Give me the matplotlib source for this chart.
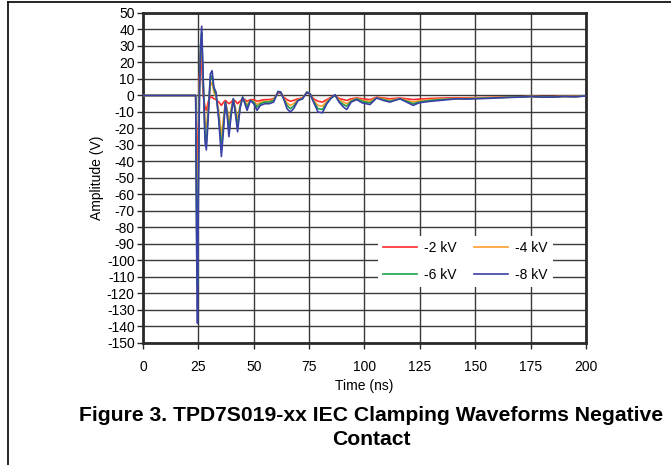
import numpy as np
from matplotlib import pyplot as plt
from matplotlib.lines import Line2D

# ESD clamping waveforms

time_ns = [0, 10, 20, 23.8, 24.2, 24.6, 25.0, 25.5, 26.0, 26.5, 27.2, 28.0, 28.6, 29.4,
           30.4, 31.2, 32.0, 33.0, 34.2, 35.4, 36.4, 37.2, 38.0, 38.8, 39.8, 40.8,
           41.8, 42.7, 43.8, 45.0, 46.0, 47.0, 48.5, 50.0, 51.5, 53.0, 55.0, 57.0,
           59.0, 61.0, 62.2, 63.5, 65.0, 66.5, 68.0, 70.0, 72.0, 74.0, 75.4, 77.0,
           79.0, 81.0, 83.0, 85.0, 86.7, 88.5, 90.5, 92.0, 94.0, 96.5, 99.0, 102.5,
           105.5, 108.5, 111.5, 116.0, 119.0, 122.0, 124.5, 127.0, 130.0, 134.0,
           138.0, 142.0, 146.0, 150.0, 155.0, 160.0, 165.0, 170.0, 175.0, 180.0,
           185.0, 190.0, 195.0, 200.0]

v_2kv = [0, 0, 0, 0, -30, -50, -20, 10, 26, 18, 0, -7, -9, -4,
         -1, -1, -2, -2.5, -4, -6, -4, -3, -4, -5, -4, -2.5,
         -3.5, -5, -3.5, -2, -2.5, -3.5, -2.5, -2.5, -3.5, -3, -2.5, -2.5,
         -2, 1.5, 1.5, -1, -2.5, -3.5, -3, -2, -1.5, 1.5, 1, -2,
         -3.5, -4, -2.5, -1, 0, -1.8, -2.5, -3, -2, -1.5, -2, -2.5,
         -1, -1.5, -2, -1.5, -2, -2.5, -2.2, -2, -1.8, -1.6,
         -1.5, -1.4, -1.4, -1.3, -1.2, -1, -0.9, -0.8, -0.6, -0.7,
         -0.7, -0.5, -0.6, -0.3]

v_4kv = [0, 0, 0, 0, -60, -85, -35, 8, 28, 33, 5, -16, -20, -8,
         6, 8, 2, -1, -9, -25, -13, -4, -8, -17, -8, -2.5,
         -8, -15, -6, -1.5, -3.5, -5.5, -3, -3.5, -5.5, -4, -3.5, -3.5,
         -2.5, 2, 2, -1.5, -4.5, -6, -5, -2.5, -1.5, 2, 1, -3,
         -6, -6.5, -3.5, -1.2, 0, -2.5, -4, -5, -3, -1.8, -3, -3.5,
         -1.3, -2, -3, -1.8, -3, -4, -3.2, -3, -2.5, -2.2,
         -2, -1.8, -1.8, -1.6, -1.4, -1.2, -1, -0.9, -0.6, -0.8,
         -0.8, -0.6, -0.6, -0.3]

v_6kv = [0, 0, 0, 0, -80, -115, -50, 5, 30, 38, 8, -24, -28, -12,
         10, 12, 4, 0, -13, -32, -17, -4, -10, -22, -10, -2,
         -10, -19, -7, -1, -4, -7, -3, -4, -7, -5, -4, -4,
         -3, 2, 2, -2, -6, -8, -6.5, -3, -2, 2, 1, -3.5,
         -8, -8.5, -4.5, -1.5, 0, -3.5, -5.5, -6.5, -3.5, -2, -3.5, -4.5,
         -1.5, -2.5, -3.5, -2, -3.5, -5, -4, -3.5, -3, -2.5,
         -2.2, -2, -2, -1.8, -1.6, -1.3, -1.1, -1, -0.6, -0.9,
         -0.9, -0.6, -0.7, -0.3]

v_8kv = [0, 0, 0, 0, -90, -138, -60, 0, 30, 42, 10, -28, -33, -15,
         13, 15, 5, 2, -15, -37, -20, -4, -12, -25, -12, -2,
         -12, -22, -8, -1, -5, -9, -3, -5, -9, -6, -5, -5,
         -4, 2.5, 2, -2, -8, -10, -8, -3, -2, 2, 1, -4,
         -10, -10.5, -5, -1.5, 0.5, -4, -7, -8.5, -4, -2.5, -4.5, -5.5,
         -1.5, -3, -4, -2, -4, -6, -4.5, -4, -3.5, -3,
         -2.5, -2, -2.2, -2, -1.8, -1.5, -1.2, -1, -0.6, -1,
         -1, -0.6, -0.8, -0.3]

labels = ['-2 kV', '-4 kV', '-6 kV', '-8 kV']
colors = ['#ff2a2a', '#ff9c2e', '#1f9e4e', '#3b40a6']

plt.rcParams['font.family'] = ['Liberation Sans', 'DejaVu Sans']
plt.rcParams['axes.unicode_minus'] = False

fig = plt.figure(figsize=(6.71, 4.65), dpi=100)
ax = fig.add_axes([0.2131, 0.2624, 0.6602, 0.7097])

lines = []
for vals, lab, col in zip([v_2kv, v_4kv, v_6kv, v_8kv], labels, colors):
    ln, = ax.plot(time_ns, vals, color=col, lw=1.2, label=lab, zorder=3)
    lines.append(ln)

ax.set_xlim(0, 200)
ax.set_ylim(-150, 50)
ax.set_xticks(np.arange(0, 201, 25))
ax.set_yticks(np.arange(-150, 51, 10))
ax.grid(True, color='#3a3a3a', lw=1.0)
ax.set_axisbelow(True)
for sp in ax.spines.values():
    sp.set_linewidth(2)
    sp.set_color('#2a2a2a')
ax.tick_params(axis='both', direction='out', length=4, width=1, color='#2a2a2a',
               labelsize=10)
ax.tick_params(axis='x', pad=8)
ax.tick_params(axis='y', pad=2)

ax.set_ylabel('Amplitude (V)', fontsize=10, labelpad=2)
ax.set_xlabel('Time (ns)', fontsize=10, labelpad=4)

# legend rows: -2/-4 on top, -6/-8 below
order = [0, 2, 1, 3]
leg = ax.legend([lines[i] for i in order], [labels[i] for i in order], ncol=2,
                loc='upper left', bbox_to_anchor=(0.53, 0.325), borderaxespad=0,
                frameon=True, fancybox=False, edgecolor='none', facecolor='white',
                framealpha=1, fontsize=10, handlelength=2.4, columnspacing=1.3,
                handletextpad=0.5, labelspacing=0.9)

fig.text(0.553, 0.081, 'Figure 3. TPD7S019-xx IEC Clamping Waveforms Negative\nContact',
         ha='center', va='center', fontsize=15.2, fontweight='bold', linespacing=1.3)

# page frame lines (top and left)
fig.add_artist(Line2D([0.012, 1], [0.996, 0.996], color='black', lw=1.2))
fig.add_artist(Line2D([0.012, 0.012], [0, 0.996], color='black', lw=1.2))

fig.savefig('out.png', dpi=100)
